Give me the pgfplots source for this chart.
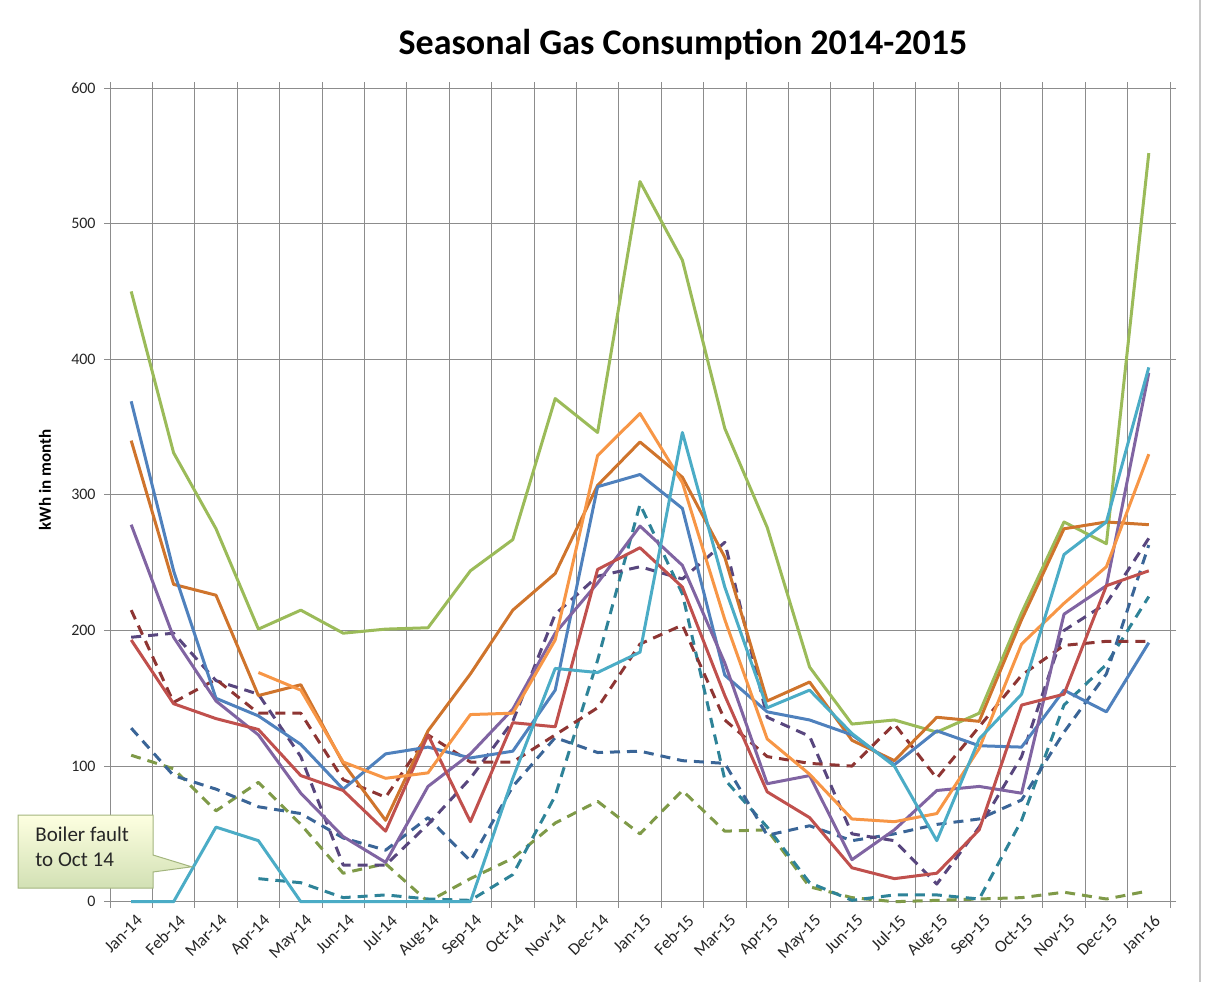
\documentclass[border=0pt]{standalone}
\usepackage{fontspec}
\setmainfont{Carlito}
\usepackage{pgfplots}
\usepackage{pgfplotstable}
\pgfplotsset{compat=1.18}

\definecolor{cG}{HTML}{9BBB59}
\definecolor{cB}{HTML}{4F81BD}
\definecolor{cDO}{HTML}{CF742C}
\definecolor{cP}{HTML}{8064A2}
\definecolor{cR}{HTML}{C0504D}
\definecolor{cLO}{HTML}{F79646}
\definecolor{cC}{HTML}{4BACC6}
\definecolor{cDR}{HTML}{8E3533}
\definecolor{cDP}{HTML}{58467E}
\definecolor{cDB}{HTML}{3A6597}
\definecolor{cDT}{HTML}{2E8398}
\definecolor{cDG}{HTML}{7F9A48}
\definecolor{gridc}{HTML}{8C8C8C}

% monthly kWh, Jan-14 .. Jan-16 (idx 0..24)
\pgfplotstableread{
idx G   B   DO  P   R   LO  C   DR  DP  DB  DT  DG
0   450 369 340 278 193 nan 0   215 195 128 nan 108
1   331 244 234 195 146 nan 0   147 198 93  nan 98
2   275 150 226 148 135 nan 55  164 163 83  nan 67
3   201 137 152 123 127 169 45  139 153 70  17  88
4   215 116 160 80  93  156 0   139 107 65  14  57
5   198 83  102 48  82  103 0   90  27  47  3   21
6   201 109 60  29  52  91  0   77  27  38  5   28
7   202 114 126 85  123 95  0   123 57  62  2   0
8   244 106 168 109 59  138 0   103 91  30  1   17
9   267 111 215 142 132 139 91  103 133 85  20  32
10  371 156 242 198 129 193 172 123 212 121 78  58
11  346 306 307 235 245 329 169 143 240 110 178 74
12  531 315 339 277 261 360 184 190 247 111 293 50
13  473 290 313 248 232 309 346 204 238 104 227 82
14  349 167 254 176 152 208 232 134 265 102 90  52
15  276 140 148 87  81  120 143 107 136 49  55  53
16  173 134 162 93  62  94  156 102 122 56  14  11
17  131 123 119 31  25  61  124 100 50  45  1   3
18  134 101 104 53  17  59  100 131 45  50  5   0
19  125 126 136 82  21  65  45  91  13  57  5   1
20  139 115 133 85  53  113 120 129 55  61  2   2
21  213 114 208 80  145 190 153 167 107 75  60  3
22  280 156 275 212 153 220 256 189 200 125 145 7
23  264 140 280 233 233 247 280 192 220 168 175 2
24  552 191 278 390 244 330 394 192 268 263 225 8
}\gasdata

\pgfplotsset{
  sol/.style={line width=1.5pt, line join=round, no markers},
  dsh/.style={line width=1.5pt, line join=round, no markers, dash pattern=on 5pt off 3.5pt},
}

\begin{document}
\begin{tikzpicture}
\useasboundingbox (0,0) rectangle (603pt,491pt);
\draw[gray!45, line width=0.6pt] (600pt,0) -- (600pt,491pt);

\begin{axis}[
  at={(55pt,40.15pt)}, anchor=south west,
  scale only axis, width=530pt, height=406.85pt,
  xmin=-0.5, xmax=24.5, ymin=0, ymax=600,
  clip=false,
  xtick={0,...,24},
  xticklabels={Jan-14,Feb-14,Mar-14,Apr-14,May-14,Jun-14,Jul-14,Aug-14,Sep-14,Oct-14,Nov-14,Dec-14,
               Jan-15,Feb-15,Mar-15,Apr-15,May-15,Jun-15,Jul-15,Aug-15,Sep-15,Oct-15,Nov-15,Dec-15,Jan-16},
  minor xtick={-0.5,0.5,...,24.5},
  ytick={0,100,...,600},
  xminorgrids=true, ymajorgrids=true, xmajorgrids=false,
  grid style={draw=gridc, line width=0.5pt},
  minor grid style={draw=gridc, line width=0.5pt},
  axis line style={draw=gridc, line width=0.5pt},
  tick align=outside,
  major x tick style={draw=none},
  minor x tick style={draw=gridc, line width=0.5pt},
  major y tick style={draw=gridc, line width=0.5pt},
  major tick length=3pt, minor tick length=3pt,
  tick label style={font=\fontsize{8}{9}\selectfont, text=black!85},
  /pgf/number format/assume math mode=true,
  xticklabel style={font=\fontsize{8.6}{9}\selectfont, rotate=45, anchor=north east, inner sep=0.5pt, yshift=-3pt},
  yticklabel style={inner sep=2pt, xshift=-2pt},
]
\addplot[dsh, cDG] table[x=idx, y=DG] {\gasdata};
\addplot[dsh, cDT] table[x=idx, y=DT] {\gasdata};
\addplot[dsh, cDB] table[x=idx, y=DB] {\gasdata};
\addplot[dsh, cDP] table[x=idx, y=DP] {\gasdata};
\addplot[dsh, cDR] table[x=idx, y=DR] {\gasdata};
\addplot[sol, cG]  table[x=idx, y=G]  {\gasdata};
\addplot[sol, cDO] table[x=idx, y=DO] {\gasdata};
\addplot[sol, cB]  table[x=idx, y=B]  {\gasdata};
\addplot[sol, cP]  table[x=idx, y=P]  {\gasdata};
\addplot[sol, cR]  table[x=idx, y=R]  {\gasdata};
\addplot[sol, cLO] table[x=idx, y=LO] {\gasdata};
\addplot[sol, cC]  table[x=idx, y=C]  {\gasdata};
\end{axis}

% title and axis title
\node[anchor=base, font=\fontsize{18}{21}\selectfont\bfseries] at (341.5pt,463.5pt)
  {Seasonal Gas Consumption 2014-2015};
\node[rotate=90, font=\fontsize{8.5}{10}\selectfont\bfseries] at (22.5pt,251pt) {kWh in month};

% callout
\path[draw=cG!80!black!70, line width=0.5pt, top color=green!5!yellow!12, bottom color=cG!45]
  (9pt,47pt) -- (76.5pt,47pt) -- (76.5pt,55pt) -- (95.8pt,57.6pt) -- (76.5pt,63.5pt)
  -- (76.5pt,83.5pt) -- (9pt,83.5pt) -- cycle;
\node[anchor=base west, font=\fontsize{10.5}{12.5}\selectfont, text=black!85, inner sep=0pt]
  at (17.5pt,70.2pt) {Boiler fault};
\node[anchor=base west, font=\fontsize{10.5}{12.5}\selectfont, text=black!85, inner sep=0pt]
  at (17.5pt,57.7pt) {to Oct 14};
\end{tikzpicture}
\end{document}
